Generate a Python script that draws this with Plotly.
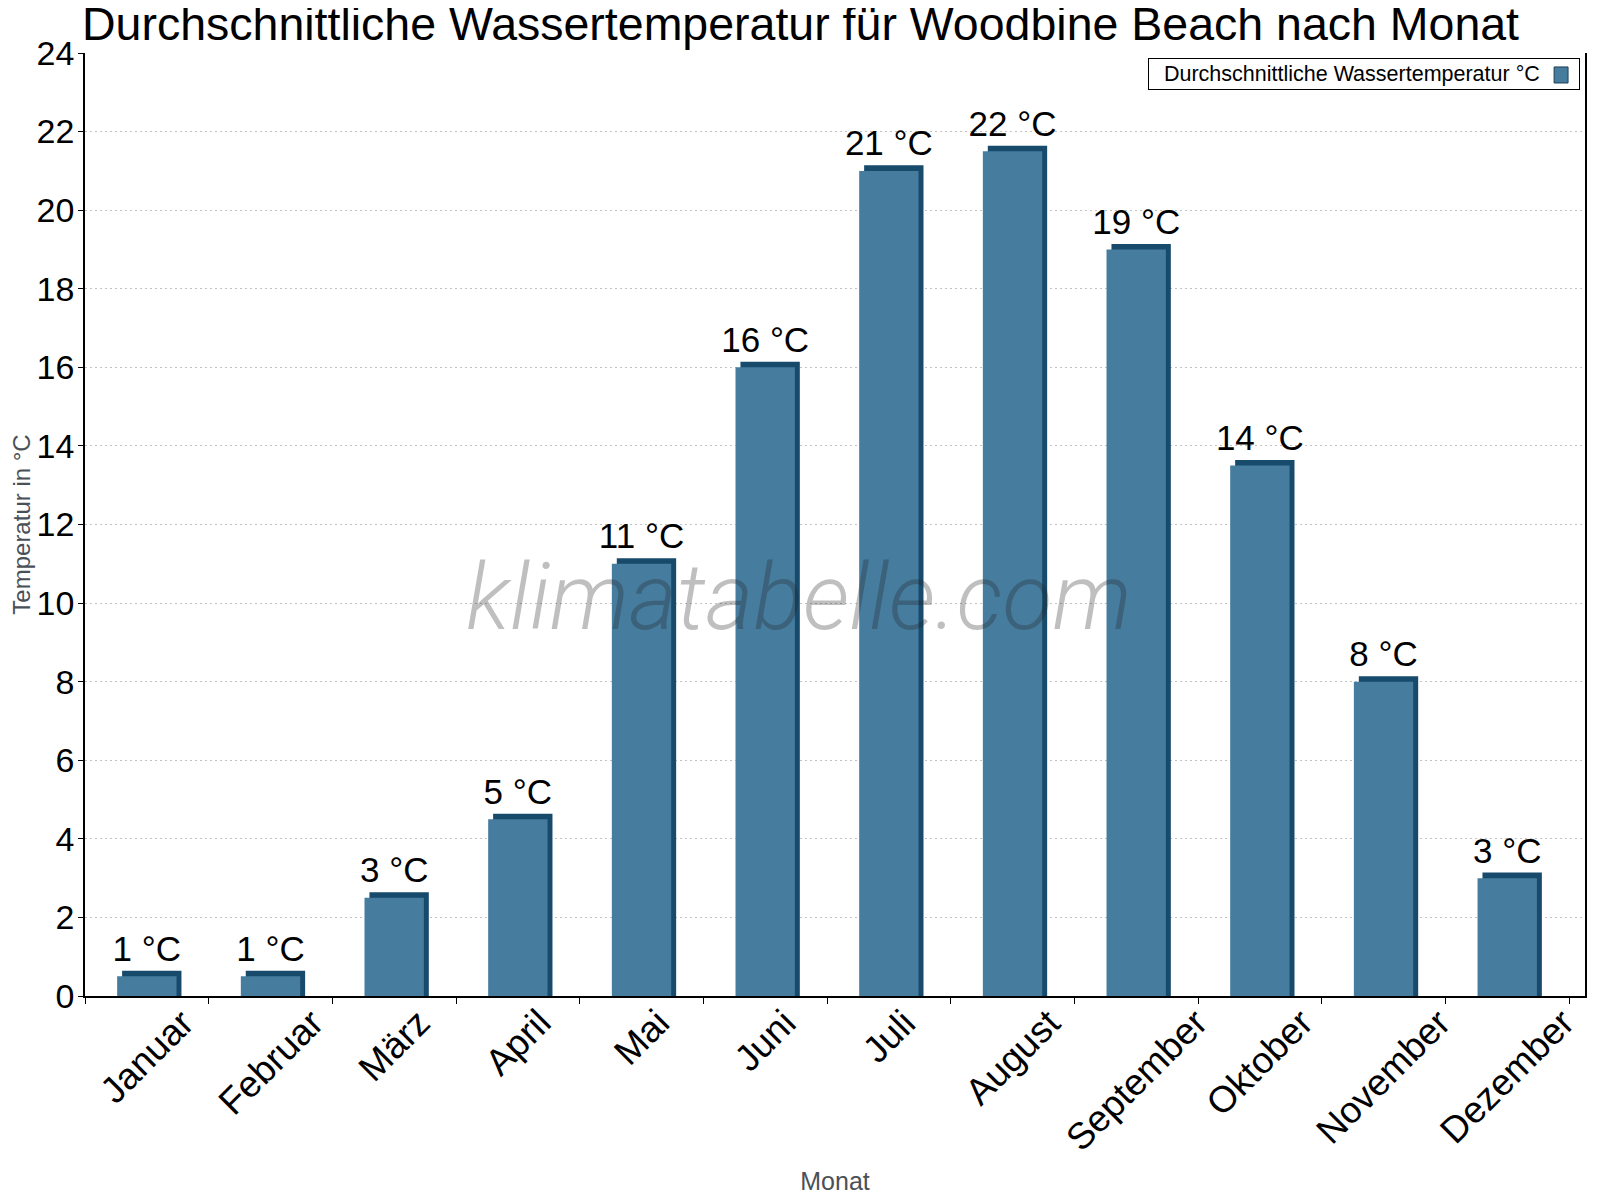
import plotly.graph_objects as go

months = ['Januar', 'Februar', 'März', 'April', 'Mai', 'Juni', 'Juli',
          'August', 'September', 'Oktober', 'November', 'Dezember']
water_temp = [0.5, 0.5, 2.5, 4.5, 11, 16, 21, 21.5, 19, 13.5, 8, 3]
labels = ['1 °C', '1 °C', '3 °C', '5 °C', '11 °C', '16 °C', '21 °C',
          '22 °C', '19 °C', '14 °C', '8 °C', '3 °C']

front = '#467c9e'
side = '#174a6b'

bar_w = 0.48
shift_x = 0.04   # depth of the fake 3d side, category units
shift_y = 0.14   # depth of the fake 3d top, data units

fig = go.Figure()

# dark back face -> gives the top and right strips
fig.add_trace(go.Bar(
    x=months, y=[v + shift_y for v in water_temp],
    width=bar_w, offset=-bar_w / 2 + shift_x,
    marker=dict(color=side, line=dict(width=0)),
    showlegend=False, hoverinfo='skip',
))

# front face
fig.add_trace(go.Bar(
    x=months, y=water_temp,
    width=bar_w, offset=-bar_w / 2,
    marker=dict(color=front, line=dict(width=0)),
    name='Durchschnittliche Wassertemperatur °C',
    showlegend=False,
))

# value labels, centred on the category above the top strip
fig.add_trace(go.Bar(
    x=months, y=[v + shift_y for v in water_temp],
    width=bar_w, offset=-bar_w / 2,
    marker=dict(color='rgba(0,0,0,0)', line=dict(width=0)),
    text=labels, textposition='outside', cliponaxis=False, constraintext='none',
    textfont=dict(size=35, color='black'),
    showlegend=False, hoverinfo='skip',
))

# page has an 8px body margin, so the figure is 16px smaller than the window
fig.update_layout(
    width=1592, height=1192,
    barmode='overlay',
    plot_bgcolor='white', paper_bgcolor='white',
    font=dict(family='Liberation Sans, Arial, sans-serif', color='black'),
    margin=dict(l=77, r=15, t=45, b=204, autoexpand=False),
    title=dict(
        text='Durchschnittliche Wassertemperatur für Woodbine Beach nach Monat',
        x=74 / 1592, xanchor='left', y=1 - 16 / 1192, yanchor='middle',
        font=dict(size=46.5, color='black'),
    ),
)

fig.update_xaxes(
    type='category', automargin=False,
    showline=True, linecolor='black', linewidth=1.5,
    ticks='outside', tickson='boundaries', ticklen=6, tickcolor='black',
    showticklabels=False,
    showgrid=False,
    title=dict(text='Monat', font=dict(size=25, color='#4a5057'), standoff=176),
)

fig.update_yaxes(
    range=[0, 24], dtick=2, automargin=False,
    showline=True, linecolor='black', linewidth=1.5, mirror=True,
    ticks='outside', ticklen=5, tickcolor='black',
    tickfont=dict(size=34, color='black'), ticklabelstandoff=-3,
    showgrid=True, gridcolor='#c2c2c2', griddash='2px,3px', gridwidth=1,
    zeroline=False,
    title=dict(text='Temperatur in °C', font=dict(size=24, color='#4a5057'), standoff=15),
)

# month labels, rotated and centred under each category
for m in months:
    fig.add_annotation(
        text=m, x=m, xref='x', y=0, yref='paper',
        xanchor='center', yanchor='top', yshift=-3,
        textangle=-45, showarrow=False,
        font=dict(size=37, color='black'),
    )

# watermark
fig.add_annotation(
    text='klimatabelle.com', xref='paper', yref='paper',
    x=0.4763, y=0.423, xanchor='center', yanchor='middle', showarrow=False,
    font=dict(family='Roboto', size=92, color='rgba(35,35,35,0.29)', weight=300, style='italic'),
)

# legend box (swatch sits right of the text)
fig.add_annotation(
    text='&nbsp;&nbsp;Durchschnittliche Wassertemperatur °C' + '&nbsp;' * 6,
    xref='paper', yref='paper', x=0.9967, y=0.9947,
    xanchor='right', yanchor='top', showarrow=False,
    font=dict(size=21.5, color='black'),
    bordercolor='black', borderwidth=1, borderpad=3, bgcolor='rgba(0,0,0,0)',
)
fig.add_shape(
    type='rect', xref='paper', yref='paper',
    x0=0.9794, x1=0.9887, y0=0.9682, y1=0.9852,
    fillcolor=front, line=dict(color='#1f3f55', width=1), layer='above',
)

fig.write_html('out.html')
